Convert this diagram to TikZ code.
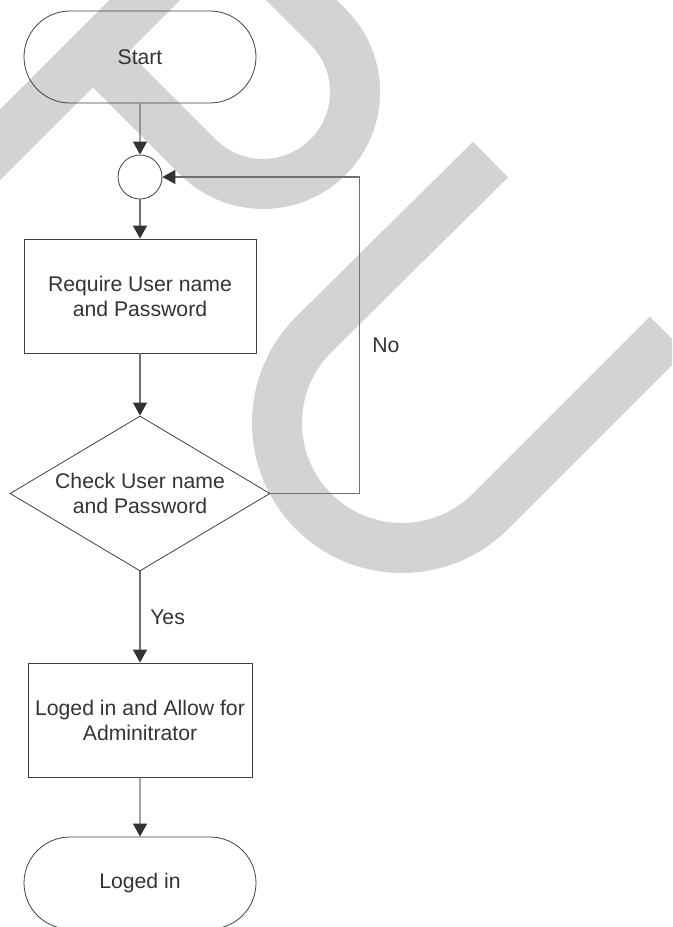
\documentclass[tikz,border=0pt]{standalone}
\usepackage{fontspec}
\setmainfont{Liberation Sans}
\usetikzlibrary{shapes.geometric,shapes.misc,arrows.meta}
\definecolor{wm}{HTML}{D3D3D3}
\definecolor{bord}{HTML}{404040}
\definecolor{conn}{HTML}{707070}
\definecolor{tipc}{HTML}{333333}
\definecolor{txt}{HTML}{333333}
\begin{document}
\begin{tikzpicture}[x=0.75pt,y=-0.75pt,
 every node/.style={font=\fontsize{15.9}{18.75}\selectfont, text=txt},
 term/.style={rounded rectangle, draw=bord, line width=0.6pt, minimum width=174pt, minimum height=69pt, inner sep=0pt},
 proc/.style={rectangle, draw=bord, line width=0.6pt, minimum height=85.5pt, inner sep=0pt, align=center},
 junc/.style={circle, draw=bord, line width=0.6pt, minimum size=33pt, inner sep=0pt},
 dec/.style={diamond, draw=bord, line width=0.6pt, shape aspect=1.677, minimum width=195pt, minimum height=116.25pt, inner sep=0pt, align=center},
 flow/.style={draw=conn, line width=0.9pt, -{Triangle[width=10.5pt,length=9.75pt,color=tipc]}},
 lbl/.style={anchor=west, inner sep=0pt},
 wmark/.style={draw=wm, line width=37.5pt}
]
\useasboundingbox (0,0) rectangle (672,927);
\begin{scope}
\clip (0,0) rectangle (672,927);
\draw[wmark] (-60,205) -- (200,-55);
\draw[wmark] (93,52) -- (198,157) arc[start angle=135,end angle=-45,radius=92] -- (250,-51);
\draw[wmark] (490.5,159.5) -- (313.6,334.6) arc[start angle=225,end angle=45,radius=125] -- (667.4,334.4);
\end{scope}
\node[term] (start) at (140,57) {Start};
\node[junc] (j) at (140,177) {};
\node[proc, minimum width=174pt] (req) at (140,296) {Require User name\\and Password};
\node[dec] (chk) at (140,493.5) {Check User name\\and Password};
\node[proc, minimum width=168pt] (log) at (140,720) {Loged in and Allow for\\Adminitrator};
\node[term] (end) at (140,883) {Loged in};
\draw[flow] (start) -- (j);
\draw[flow] (j) -- (req);
\draw[flow] (req) -- (chk);
\draw[flow] (chk) -- (log);
\draw[flow] (log) -- (end);
\draw[flow] (chk.east) -- ++(89,0) |- (j.east);
\node[lbl] (no) at (372,345) {No};
\node[lbl] (yes) at (150,617) {Yes};
\end{tikzpicture}
\end{document}
